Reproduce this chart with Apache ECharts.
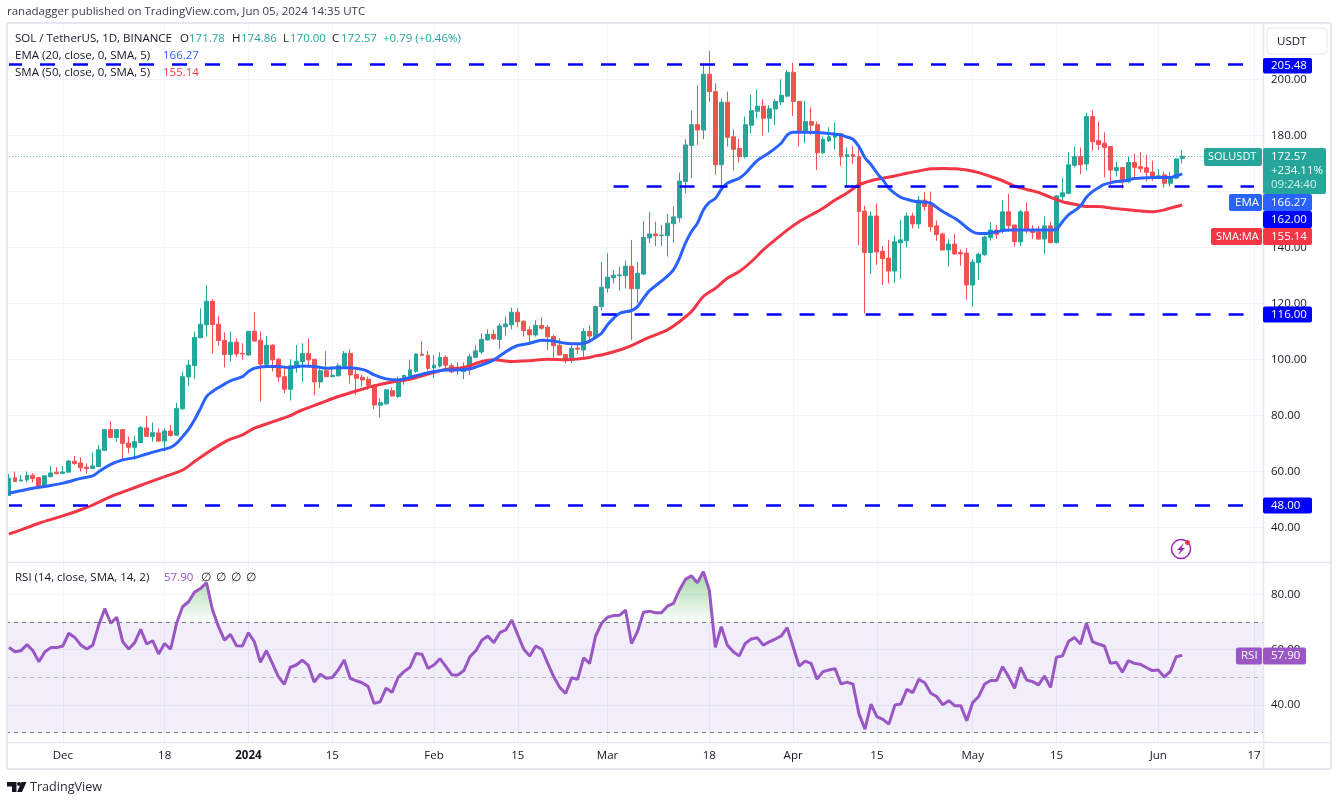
<!DOCTYPE html>
<html>
<head>
    <meta charset="utf-8">
    <title>SOLUSDT</title>
    <script src="https://cdn.jsdelivr.net/npm/echarts@6/dist/echarts.min.js"></script>
    <style>
        html, body { margin: 0; padding: 0; background: #fff; }
    </style>
</head>
<body>
<div id="main" style="width: 1341px;height:801px;"></div>

<script type="text/javascript">
    // values, one per day starting 2023-11-22
    var opens = [
        51.5,57.8,56.7,57,58.7,57.9,54.9,58.2,59.8,59.4,
        59.8,63.7,63.1,61.6,61.1,61.8,67.6,75,72.2,75,
        70.2,68.7,70.4,75.6,72.5,73.8,70.9,74.5,73,82.4,
        93.8,97.8,107.8,112.4,120.8,112.6,106.8,101.8,106.2,102.2,
        101.6,110.1,106.9,98.3,105.1,100.1,93.9,89.4,97.2,99.3,
        102.2,100.1,92,96,93.9,94.2,97.7,102.2,94.7,93.7,
        93,90.9,83.7,84.2,88.9,86.8,92.5,94.2,95.8,101.9,
        101.5,97,97.7,100.8,97.8,96.6,95.7,96.3,100.8,102.7,
        107,109,107.2,111.7,112.4,116.9,113.7,110.6,108.8,112.2,
        111.5,108.2,105.1,101.8,99.6,104.1,103.4,110,107.9,118.9,
        125.5,129.2,129.9,129.9,133.3,125.3,130.5,143.4,144.8,144.2,
        144.2,148.5,150.6,163.5,176.4,183.8,181.9,201.8,195.6,169.5,
        191.8,179.5,175.3,172.4,183.6,188.6,190.4,186.1,189.4,191.9,
        194,202.5,192.1,181,184.9,183.8,173.8,178,179.3,180.6,
        172.4,173.1,172.4,153,138.2,151.2,138.6,136.2,131.6,141.7,
        142.4,151.2,148.4,156.9,155.2,147.7,144.8,139.1,141.2,138.2,
        138,126.6,134.6,137.4,143.5,146.2,145.8,152.7,148,142,
        152.7,146.2,145.6,143,147.7,141.7,158.1,159.3,169.3,172.4,
        169.8,186.7,178.1,177.2,176,167.4,168.5,163.4,170.3,168.8,
        168.4,166.9,165.3,165.9,162.9,164.7,171.78
    ];
    var closes = [
        57.65,56.5,57.05,58.7,57.5,54.9,58.5,59.55,59.3,59.9,
        63.8,62.9,61.4,61.1,62.05,67.8,75,72.2,75,70.1,
        68.7,70.7,75.7,72.6,73.9,70.9,74.5,72.9,82.5,93.9,
        98,107.9,112.6,120.8,112.5,106.8,101.8,106.2,102,102,
        110.1,106.6,98.4,105.1,99.9,93.8,89.4,97.8,99.4,102.2,
        99.9,92,96,93.9,94.4,97.8,102.2,94.5,93.3,92.7,
        90.8,83.8,84.6,89.2,87,92.7,94.3,96.3,102,101.5,
        96.8,98,100.8,98,95.6,96.9,97.5,101,103.1,107.2,
        109,107.4,112,112.7,116.9,113.5,110.3,108.8,112.2,111.2,
        108.1,104.9,101.6,99.6,104,103.7,110,108.4,118.9,125.8,
        129.4,130.1,130.2,133.3,125.3,130.8,143.6,144.8,144.2,144.4,
        148.6,150.9,163.7,176.6,183.8,181.9,201.8,195.6,169.5,191.8,
        179.3,175,172.4,183.8,188.8,190.4,186.1,189.5,192.1,194.3,
        202.5,192.1,181,184.9,183.6,173.8,178.6,179.5,180.6,172.4,
        173.1,172.4,152.8,138.2,151.2,138.4,136,131.6,142,142.7,
        151.2,148.4,156.9,154.6,147.4,144.6,139.1,141.2,137.7,137.7,
        126.6,134.8,137.6,143.7,146.2,144.7,152.7,147.8,142.1,152.7,
        146,145.3,143,147.7,141.7,158.4,159.5,169.5,172.4,169.5,
        186.7,177.7,176.7,175.7,167.6,168.5,163.4,170.3,168.6,168.1,
        166.8,165.3,165.6,162.9,165,171.6,172.57
    ];
    var highs = [
        59.2,60,58.8,60,59.4,58.2,58.8,62,61.6,62,
        64.1,65.6,65.1,63,66.8,69.5,75.2,78,75.2,75.2,
        72.5,72.8,76.3,79.9,77.5,75.5,75.5,76.6,84.6,95.7,
        99.9,110,118.3,126.6,121.5,115.6,109.7,110,107.6,105.8,
        110.1,116.9,110,108.4,105.6,100.5,96.9,100.1,105.2,105.8,
        107.6,100.1,96.9,103,97.7,98.7,103,103.7,96.3,94.5,
        93.9,90.9,86.2,89.4,90.1,93.9,94.7,99.9,102.2,106.6,
        103,101.6,102.6,101.5,98.7,99,99,102,105.2,109.4,
        110.8,110.6,113,115.3,118.5,118.3,113.9,111.8,114.1,115.1,
        112.3,108.8,107.6,102,105,105.2,111.2,112.3,119.2,134.9,
        137.9,132,133.2,135.3,142.7,134.9,149.4,152.7,149.2,148,
        152,154.6,166.7,178.6,188.8,197.8,205.5,210.1,198.6,193.2,
        195.6,182.1,178.8,186.7,194.6,196.4,192.9,190.8,193,200,
        203.3,205.9,192.3,192.3,190,184.9,179.5,182.9,184.6,180.7,
        175.7,176.2,175.7,154.9,152.8,155.7,140.5,142.7,144.3,149.8,
        152.4,152.4,158.4,159.8,159.9,149.6,145.3,142.9,144.8,139.3,
        139.8,135.8,138.2,144.2,149.1,148,156.9,159.1,148.1,153.4,
        156,148,147.7,151,149.2,158.7,164.8,174,176,175.7,
        188.1,189.1,184.9,181.1,176.2,170.6,168.6,172.4,173.4,174,
        173,171,168,167,167,171.8,174.86
    ];
    var lows = [
        51.5,56.5,56.5,56.2,56.1,53.7,54.7,58,59,59.1,
        59.7,62.4,60,59.3,60.9,61.6,67.5,71.9,70.6,64.2,
        66.6,64.2,70.1,72.4,70.7,70.6,67.2,72.5,72.8,82,
        90.6,93,107.6,108.2,102.2,104.9,97.2,99.3,100.8,99.9,
        101.5,106.4,85,97.5,95.7,92.1,88,85.4,95.3,92,
        97.7,87.3,89.8,93.7,93.7,93.9,97.5,91.5,87.4,90.3,
        89.2,82.3,79.4,83.8,86.8,86.2,91,93.7,95.3,101.3,
        96.1,93.3,97.2,96.8,95.1,94.5,93,94.5,100.5,102,
        106.8,107,103.8,108.4,110.8,111.5,108.2,105.2,108.2,110.6,
        103.4,100.5,101.4,98.7,98.7,102,100.7,105.8,107.6,117.5,
        123.9,127.2,124.6,125.4,107,120.1,130.2,141.5,140.5,140.5,
        136.7,141.7,148.9,159.3,164.7,176.6,178.6,192,165.9,161.7,
        176,167.4,170.3,171.8,180.7,186.1,179.9,181,183.7,190.8,
        193.6,186.9,176,177.2,180.1,167.6,173.4,177.7,175,169.1,
        161.9,169.8,140.9,116.5,130.5,133.8,126.6,127.2,127.5,128.8,
        139.9,146.8,146.7,153.1,145.6,142.4,138.9,133.2,137.3,133.5,
        121.3,118.9,128.4,137,142.4,143,145.1,145.6,140.3,140.5,
        145,143,142.7,137.7,141.5,141.5,156.3,159.1,168.6,166.1,
        167.4,174.5,174.8,165,162.3,165.3,161,163.1,165,166.7,
        163.5,163.8,165,161.3,161.7,164.3,170
    ];
    var rsiValues = [
        60.8,59.2,59.6,61.8,59.6,55.6,59.2,60.7,60.7,61.3,
        65.9,64.4,61.6,60.2,61.6,68.9,74.8,69.5,71.7,62.8,
        60.2,62.5,67.3,62,63.2,58.4,62.2,60.1,69.5,75.5,
        77.3,80.8,82.1,84.2,74.3,68.3,63.4,65.5,61.4,61.3,
        66.1,62.8,55.4,59.6,55,50.2,47.4,53.6,54.4,56.2,
        54.3,48.2,51.1,49.6,49.9,52.6,56.2,49.6,48.7,48,
        46.6,40.5,41.1,46,44.5,49.9,52,53.6,58.6,58.3,
        53.2,54.4,56.7,53.8,50.8,50.8,52.4,57.4,59.6,63.4,
        64.9,62.5,66.1,67.1,70.7,65.3,60.1,57.7,61.3,60.1,
        55,50.2,46.3,44.1,49.8,49.2,57,55,64.9,69.5,
        71.7,72.3,72.4,74.3,62.2,66.5,73.5,73.9,73.3,73.3,
        75.7,76.7,81.5,85.4,86.7,84.2,88.2,81.5,60.8,68.3,
        61.6,59.2,57.7,62.2,63.8,64.3,61.6,62.8,63.8,64.9,
        67.9,61,54,55.8,55,49.3,52,52.6,53.1,47.5,
        48.2,47.5,36.7,31.2,40.2,35.7,34.7,33,39.9,40.3,
        45.6,44.4,49.2,48,44.2,43,40,41.5,39.7,39.7,
        34.2,40.8,43,47.5,48.8,48.8,53.8,50.2,46,53.5,
        49,48.4,47.2,50.4,46.3,57.2,57.7,62.9,64.4,62,
        69.5,62.9,62,61.3,55,55.4,51.8,56,55,54.7,
        53.5,52.4,52.6,50.1,52,57.4,57.9
    ];

    // moving averages, read at these day indexes
    var emaDays = [0,4,6,9,12,14,15,17,19,21,23,25,27,28,29,30,31,32,33,34,35,37,39,40,41,43,45,47,49,51,53,55,57,59,60,61,63,65,67,69,71,73,75,77,79,81,83,84,85,87,89,91,93,95,96,97,98,99,100,101,102,104,105,106,107,108,110,111,112,113,114,115,116,117,118,119,120,122,123,124,125,127,129,130,131,133,135,137,139,140,141,142,143,144,145,146,147,148,149,150,151,152,153,154,155,156,157,158,159,160,161,162,163,164,165,167,169,171,173,174,175,176,177,178,179,180,181,182,183,184,185,186,187,188,190,192,193,194,195,196];
    var emaValues = [52.3,54.1,54.7,55.9,57.6,58.5,60,62.6,64.2,65,66.3,67.5,68.7,70.1,72.5,75.1,78.5,82.6,86.8,88.6,90,92.4,93.9,95.7,96.9,97.5,97.5,97.1,97.7,97.5,96.9,97.1,97.1,96.5,95.7,94.5,93.1,92.7,93.6,94.8,95.7,96.3,96.3,96.7,98.1,99.9,102.8,104.1,105,105.8,106.9,106.6,105.8,105.6,105.8,106.6,107.9,109.4,112.4,114.7,116.5,117.5,118.9,121.9,124.6,126.3,129.8,132,136.1,141.5,145.6,148.6,153.4,156.1,157.5,160.7,162.9,164.7,166.4,168.8,171,173.8,177.2,180.1,181.1,181.1,181,180.7,180.1,179.4,178.6,176,172,169.6,166.6,164.1,161.1,159.3,157.9,157.2,156.6,156.3,156.2,155.8,154.3,152.8,151.6,150.4,148.9,147.1,145.6,145,145,145.3,145.6,146.2,146.2,146.2,146.2,146.2,146.5,149.2,151.6,153.1,154.8,157.9,159.9,161.3,162.5,163.1,163.5,163.7,164.1,164.6,164.9,165,165,165,165.6,166.27];
    var smaDays = [0,2,5,9,12,14,17,20,23,26,29,31,33,35,37,39,41,43,45,47,48,49,52,55,58,61,64,67,70,73,76,79,81,84,87,90,93,95,97,98,99,102,104,106,108,110,112,114,116,118,120,122,124,126,128,130,132,134,136,138,140,142,144,146,148,150,152,154,156,158,160,162,164,166,168,170,172,174,176,178,180,182,184,186,188,190,191,193,195,196];
    var smaValues = [37.7,39.2,41.6,44.2,46.4,48.1,51.1,53.5,55.9,58.2,60.6,63.6,66.6,69.3,71.6,73.1,75.5,77,78.5,80,81.1,82,84.4,86.8,88.8,90.6,92,93,94.8,96.5,97.2,99.3,99.9,99.3,99.6,100.1,99.9,100.2,100.7,101.3,101.6,103.4,105,107,108.8,110.6,113.5,117.1,122.5,125.4,129,131.4,134.9,139.1,142.7,146.2,149.2,151.6,154,156.9,159.4,162.3,163.8,164.7,165.5,166.5,167.3,168.1,168.2,168.1,167.6,166.7,165.3,163.8,161.9,160.7,159.6,157.9,156.3,155.4,154.6,154.6,154.1,153.6,153.2,152.8,152.7,153.4,154.6,155.14];

    // horizontal levels: value, first and last day index
    var levelValues = [205.48, 162, 116, 48];
    var levelStarts = [0, 101, 99, 0];
    var levelEnds = [207, 208, 207, 207];
    var lastPrice = 172.57;

    var tickDates = ['2023-12-01','2023-12-18','2024-01-01','2024-01-15','2024-02-01','2024-02-15','2024-03-01','2024-03-18','2024-04-01','2024-04-15','2024-05-01','2024-05-15','2024-06-01','2024-06-17'];
    var tickLabels = ['Dec','18','2024','15','Feb','15','Mar','18','Apr','15','May','15','Jun','17'];

    // 210 daily slots, the axis runs on past the last candle
    var categories = [];
    for (var i = 0; i < 210; i++) {
        categories.push(new Date(Date.UTC(2023, 10, 22 + i)).toISOString().slice(0, 10));
    }

    var candles = opens.map(function (o, i) {
        return [o, closes[i], lows[i], highs[i]];
    });
    function zip(days, values) {
        return days.map(function (d, i) { return [d, values[i]]; });
    }
    var rsiAbove = rsiValues.map(function (v) { return Math.max(v, 70); });

    var FONT = '"Open Sans", "Noto Sans", sans-serif';
    var FONTSIZE = 11.5;
    var GRIDCOLOR = '#f0f3fa';
    var FRAME = '#e6e8f0';
    var TEXT = '#131722';
    var UP = '#26a69a';
    var DOWN = '#ef5350';
    var LEVEL = '#0000ff';
    var EMA = '#2962ff';
    var SMA = '#f23645';
    var RSI = '#9a56c4';

    var levelLines = levelValues.map(function (v, i) {
        return [
            {coord: [levelStarts[i], v], lineStyle: {color: LEVEL, width: 2.5, type: [15, 18], dashOffset: levelStarts[i] === 0 ? 2 : 0}},
            {coord: [levelEnds[i], v]}
        ];
    });
    levelLines.push([
        {coord: [0, lastPrice], lineStyle: {color: UP, width: 1, type: [1, 2], opacity: 0.7}},
        {coord: [209, lastPrice]}
    ]);

    // texts and tags around the plot
    var graphics = [];
    function txt(x, y, s, color, size, align) {
        graphics.push({
            type: 'text', x: x, y: y, z: 120, silent: true,
            style: {text: s, fill: color || TEXT, font: (size || FONTSIZE) + 'px ' + FONT, textAlign: align || 'left', textVerticalAlign: 'middle'}
        });
    }
    function box(x, y, w, h, color) {
        graphics.push({type: 'rect', z: 110, silent: true, shape: {x: x, y: y, width: w, height: h, r: 2}, style: {fill: color}});
    }
    function line(x1, y1, x2, y2, width) {
        graphics.push({type: 'line', z: 100, silent: true, shape: {x1: x1, y1: y1, x2: x2, y2: y2}, style: {stroke: FRAME, lineWidth: width || 1}});
    }

    line(7, 23, 1331, 23, 2);
    line(7, 23, 7, 769, 2);
    line(1331, 23, 1331, 769, 2);
    line(7, 769, 1331, 769, 2);
    line(7, 562.5, 1331, 562.5, 1.5);
    line(7, 742.5, 1331, 742.5, 1.5);
    line(1263.5, 23, 1263.5, 769, 1.5);

    txt(7, 12, 'ranadagger published on TradingView.com, Jun 05, 2024 14:35 UTC', '#3a3e4a');

    txt(15, 39, 'SOL / TetherUS, 1D, BINANCE');
    txt(180, 39, 'O'); txt(189, 39, '171.78', UP);
    txt(232, 39, 'H'); txt(241, 39, '174.86', UP);
    txt(283, 39, 'L'); txt(290, 39, '170.00', UP);
    txt(332, 39, 'C'); txt(341, 39, '172.57', UP);
    txt(383, 39, '+0.79 (+0.46%)', UP);
    txt(15, 56, 'EMA (20, close, 0, SMA, 5)');
    txt(163, 56, '166.27', EMA);
    txt(15, 73, 'SMA (50, close, 0, SMA, 5)');
    txt(163, 73, '155.14', SMA);
    txt(15, 578, 'RSI (14, close, SMA, 14, 2)');
    txt(164, 578, '57.90', RSI);
    ['∅', '∅', '∅', '∅'].forEach(function (s, i) { txt(201 + i * 15, 578, s); });

    graphics.push({type: 'rect', z: 105, silent: true, shape: {x: 1267, y: 28, width: 60, height: 26, r: 4}, style: {fill: '#fff', stroke: '#e6e8f0', lineWidth: 1}});
    txt(1277, 41.5, 'USDT');

    box(1263, 58, 49, 15.5, LEVEL); txt(1271, 65.5, '205.48', '#fff');
    box(1263, 306.5, 49, 16, LEVEL); txt(1271, 314.5, '116.00', '#fff');
    box(1263, 497.5, 49, 16, LEVEL); txt(1271, 505.5, '48.00', '#fff');

    box(1204, 148, 58, 18, UP); txt(1208, 157, 'SOLUSDT', '#fff', 11);
    box(1263, 148, 63, 46, UP);
    txt(1271, 157, '172.57', '#fff');
    txt(1271, 171, '+234.11%', '#fff');
    txt(1271, 185, '09:24:40', '#d4eeeb');

    box(1229, 194, 33, 17, EMA); txt(1235, 202.5, 'EMA', '#fff');
    box(1263, 194, 49, 17, EMA); txt(1271, 202.5, '166.27', '#fff');
    box(1263, 211, 49, 17, LEVEL); txt(1271, 219.5, '162.00', '#fff');
    box(1211, 228, 51, 17, SMA); txt(1216, 236.5, 'SMA:MA', '#fff', 11);
    box(1263, 228, 49, 17, SMA); txt(1271, 236.5, '155.14', '#fff');

    box(1236, 647.5, 26, 17, RSI); txt(1241, 656, 'RSI', '#fff');
    box(1263, 647.5, 43, 17, RSI); txt(1271, 656, '57.90', '#fff');

    // lightning badge
    graphics.push({type: 'circle', z: 105, silent: true, shape: {cx: 1181, cy: 549, r: 9.5}, style: {fill: '#fff', stroke: '#9c27b0', lineWidth: 1.5}});
    graphics.push({type: 'polygon', z: 106, silent: true, shape: {points: [[1184, 543], [1177, 550], [1180.5, 550], [1178, 555], [1185, 548], [1181.5, 548]]}, style: {fill: '#9c27b0'}});
    graphics.push({type: 'circle', z: 107, silent: true, shape: {cx: 1187.5, cy: 542.5, r: 2.5}, style: {fill: '#f23645'}});

    // TradingView logo
    graphics.push({type: 'polygon', z: 105, silent: true, shape: {points: [[7, 782], [16.5, 782], [16.5, 792], [12, 792], [12, 786.5], [7, 786.5]]}, style: {fill: TEXT}});
    graphics.push({type: 'circle', z: 105, silent: true, shape: {cx: 19, cy: 784, r: 2}, style: {fill: TEXT}});
    graphics.push({type: 'polygon', z: 105, silent: true, shape: {points: [[21.5, 782], [26.5, 782], [22, 792], [17, 792]]}, style: {fill: TEXT}});
    txt(30, 787, 'TradingView', '#2a2e39', 12.6);

    var myChart = echarts.init(document.getElementById('main'), null, {renderer: 'canvas'});

    myChart.setOption({
        animation: false,
        backgroundColor: '#fff',
        textStyle: {fontFamily: FONT},
        // price, rsi, and one shared grid for the dates and the vertical lines
        grid: [
            {left: 6, right: 78, top: 23.25, height: 560.5},
            {left: 6, right: 78, top: 539.05, height: 221},
            {left: 9, right: 81, top: 24, height: 718}
        ],
        xAxis: [
            {gridIndex: 0, type: 'category', data: categories, show: false},
            {gridIndex: 1, type: 'category', data: categories, show: false},
            {
                gridIndex: 2, type: 'category', data: categories, boundaryGap: false,
                axisLine: {show: false},
                axisTick: {show: false},
                splitLine: {
                    show: true,
                    interval: function (index, value) { return tickDates.indexOf(value) >= 0; },
                    lineStyle: {color: GRIDCOLOR, width: 1}
                },
                axisLabel: {
                    interval: function (index, value) { return tickDates.indexOf(value) >= 0; },
                    formatter: function (value) {
                        var label = tickLabels[tickDates.indexOf(value)];
                        return label === '2024' ? '{b|2024}' : label;
                    },
                    rich: {b: {fontWeight: 'bold', fontSize: FONTSIZE, color: TEXT, fontFamily: FONT}},
                    color: TEXT, fontSize: FONTSIZE, margin: 8, fontFamily: FONT
                }
            }
        ],
        yAxis: [
            {
                gridIndex: 0, type: 'value', position: 'right', min: 20, max: 220, interval: 20,
                axisLine: {show: false}, axisTick: {show: false},
                splitLine: {lineStyle: {color: GRIDCOLOR, width: 1}, showMinLine: false, showMaxLine: false},
                axisLabel: {
                    color: TEXT, fontSize: FONTSIZE, margin: 8, fontFamily: FONT, padding: [2, 0, 0, 0],
                    showMinLabel: false, showMaxLabel: false,
                    formatter: function (v) { return v.toFixed(2); }
                }
            },
            {
                gridIndex: 1, type: 'value', position: 'right', min: 20, max: 100, interval: 20,
                axisLine: {show: false}, axisTick: {show: false},
                splitLine: {lineStyle: {color: GRIDCOLOR, width: 1}, showMinLine: false, showMaxLine: false},
                axisLabel: {
                    color: TEXT, fontSize: FONTSIZE, margin: 8, fontFamily: FONT, padding: [2, 0, 0, 0],
                    showMinLabel: false, showMaxLabel: false,
                    formatter: function (v) { return v.toFixed(2); }
                }
            },
            {gridIndex: 2, type: 'value', show: false}
        ],
        series: [
            {
                name: 'SOLUSDT',
                type: 'candlestick',
                xAxisIndex: 0, yAxisIndex: 0,
                barWidth: 4.4,
                data: candles,
                itemStyle: {color: UP, color0: DOWN, borderColor: UP, borderColor0: DOWN, borderWidth: 1},
                markLine: {
                    silent: true, symbol: 'none', animation: false,
                    label: {show: false},
                    data: levelLines
                }
            },
            {
                name: 'SMA', type: 'line', xAxisIndex: 0, yAxisIndex: 0,
                data: zip(smaDays, smaValues), showSymbol: false, symbol: 'none', smooth: 0.3,
                lineStyle: {color: SMA, width: 3}, z: 3
            },
            {
                name: 'EMA', type: 'line', xAxisIndex: 0, yAxisIndex: 0,
                data: zip(emaDays, emaValues), showSymbol: false, symbol: 'none', smooth: 0.3,
                lineStyle: {color: EMA, width: 3}, z: 3
            },
            {
                name: 'RSI over', type: 'line', xAxisIndex: 1, yAxisIndex: 1,
                data: rsiAbove, showSymbol: false, symbol: 'none',
                lineStyle: {width: 0, opacity: 0},
                areaStyle: {
                    origin: 70, opacity: 1,
                    color: new echarts.graphic.LinearGradient(0, 0, 0, 1, [
                        {offset: 0, color: 'rgba(76,175,80,0.5)'},
                        {offset: 1, color: 'rgba(76,175,80,0.02)'}
                    ])
                }
            },
            {
                name: 'RSI', type: 'line', xAxisIndex: 1, yAxisIndex: 1,
                data: rsiValues, showSymbol: false, symbol: 'none',
                lineStyle: {color: RSI, width: 3}, z: 3,
                markArea: {
                    silent: true,
                    itemStyle: {color: 'rgba(126,87,194,0.1)'},
                    data: [[{yAxis: 70}, {yAxis: 30}]]
                },
                markLine: {
                    silent: true, symbol: 'none', animation: false,
                    label: {show: false},
                    lineStyle: {color: '#787b86', width: 1, type: [4, 4]},
                    data: [
                        {yAxis: 70},
                        {yAxis: 50, lineStyle: {color: '#787b86', width: 1, type: [4, 4], opacity: 0.5}},
                        {yAxis: 30}
                    ]
                }
            }
        ],
        graphic: graphics
    });
</script>

</body>
</html>
